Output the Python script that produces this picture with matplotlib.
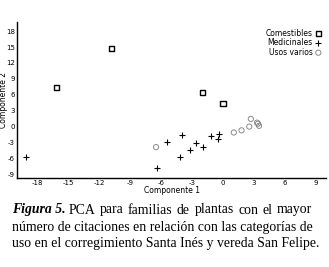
import matplotlib
matplotlib.use('Agg')
import matplotlib.pyplot as plt

plt.rcParams['axes.unicode_minus'] = False

# PCA scores
comestibles_x = [-10.8, -16.2, -2.0, 0.0]
comestibles_y = [14.8, 7.4, 6.5, 4.3]

medicinales_x = [-19.1, -6.4, -3.95, -5.4, -2.6, -3.2, -1.9, -4.2, -1.2, -0.36, -0.5]
medicinales_y = [-5.7, -7.7, -1.5, -2.9, -3.1, -4.4, -3.8, -5.7, -1.75, -1.3, -2.3]

usos_x = [-6.5, 1.05, 1.8, 2.55, 2.7, 3.3, 3.4, 3.5]
usos_y = [-3.8, -1.05, -0.65, 0.05, 1.5, 0.8, 0.6, 0.2]

xticks = [-18, -15, -12, -9, -6, -3, 0, 3, 6, 9]
yticks = [-9, -6, -3, 0, 3, 6, 9, 12, 15, 18]

caption = ['PCA para familias de plantas con el mayor',
           'número de citaciones en relación con las categorías de',
           'uso en el corregimiento Santa Inés y vereda San Felipe.']

small = ['Liberation Sans Narrow', 'DejaVu Sans']
serif = ['Liberation Serif', 'DejaVu Serif']

W, H = 329, 267
fig = plt.figure(figsize=(W/100, H/100), dpi=100)
ax = fig.add_axes([17/W, 1 - 178/H, (326 - 17)/W, (178 - 22)/H])

ax.scatter(comestibles_x, comestibles_y, marker='s', s=13, facecolors='none',
           edgecolors='black', linewidths=1.0, label='Comestibles')
ax.scatter(medicinales_x, medicinales_y, marker='+', s=20, color='black',
           linewidths=0.8, label='Medicinales')
ax.scatter(usos_x, usos_y, marker='o', s=14, facecolors='none',
           edgecolors='#8a8a8a', linewidths=0.7, label='Usos varios')

ax.set_xlim(-20, 10)
ax.set_ylim(-9.6, 19.7)
ax.set_xticks(xticks)
ax.set_yticks(yticks)
ax.tick_params(length=0, pad=1.6, labelsize=5)
for lab in ax.get_xticklabels() + ax.get_yticklabels():
    lab.set_family(small)
ax.spines['top'].set_visible(False)
ax.spines['right'].set_visible(False)
ax.spines['left'].set_linewidth(1.0)
ax.spines['bottom'].set_linewidth(1.0)

ax.set_xlabel('Componente 1', fontsize=5.5, family=small)
ax.set_ylabel('Componente 2', fontsize=5.5, family=small)
ax.xaxis.set_label_coords(0.5, -0.05)
ax.yaxis.set_label_coords(-0.029, 0.5)

leg = ax.legend(loc='upper right', bbox_to_anchor=(0.995, 0.975), markerfirst=False,
                frameon=False, prop={'family': small, 'size': 5.5},
                handletextpad=0.3, labelspacing=0.05, borderaxespad=0.0,
                handlelength=0.8)
for t in leg.get_texts():
    t.set_ha('right')

# caption
fs = 9.9
x0, x1 = 12, 318
first = fig.text(x0/W, 1 - 210/H, 'Figura 5.', family=serif, fontsize=fs,
                 weight='bold', style='italic', va='center')
words = [fig.text(0, 1 - 210/H, w, family=serif, fontsize=fs, va='center')
         for w in caption[0].split()]
fig.text(x0/W, 1 - 227/H, caption[1], family=serif, fontsize=fs, va='center')
fig.text(x0/W, 1 - 244/H, caption[2], family=serif, fontsize=fs, va='center')

# first line is spread a little towards the right margin
fig.canvas.draw()
renderer = fig.canvas.get_renderer()
start = first.get_window_extent(renderer).x1 + 3
widths = [t.get_window_extent(renderer).width for t in words]
gap = (x1 - start - sum(widths)) / (len(words) - 1)
gap = min(max(gap, 3.0), 4.4)
x = start
for t, w in zip(words, widths):
    t.set_x(x / W)
    x += w + gap

fig.savefig('out.png', dpi=100)
